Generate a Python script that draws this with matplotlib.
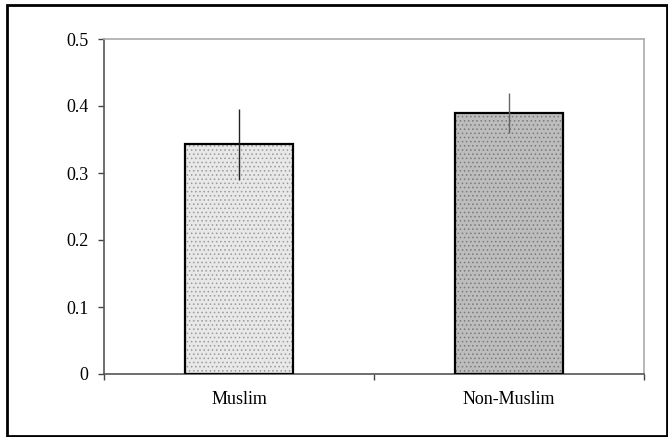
import matplotlib
matplotlib.use("Agg")
import matplotlib.pyplot as plt
from matplotlib.patches import Rectangle

categories = ["Muslim", "Non-Muslim"]
means = [0.343, 0.390]
errors = [0.053, 0.030]
y_ticks = [0, 0.1, 0.2, 0.3, 0.4, 0.5]
y_tick_labels = ["0", "0.1", "0.2", "0.3", "0.4", "0.5"]

plt.rcParams["font.family"] = ["Liberation Serif", "DejaVu Serif"]
plt.rcParams["hatch.linewidth"] = 0.6

W, H = 668, 437
fig = plt.figure(figsize=(W / 100, H / 100), dpi=100)
ax = fig.add_axes([104 / W, 1 - 374 / H, 540 / W, 335 / H])

face_colors = ["#e8e8e8", "#bdbdbd"]
hatch_colors = ["#9a9a9a", "#7a7a7a"]
x = list(range(len(categories)))
for i in x:
    ax.bar(i, means[i], width=0.4, color=face_colors[i], edgecolor=hatch_colors[i],
           hatch="....", linewidth=0, zorder=2)
    ax.bar(i, means[i], width=0.4, fill=False, edgecolor="black", linewidth=1.6, zorder=3)

err_colors = ["#222222", "#666666"]
for i in x:
    ax.errorbar(i, means[i], yerr=errors[i], fmt="none", ecolor=err_colors[i],
                elinewidth=1.0, capsize=0, zorder=4)

ax.set_xlim(-0.5, len(categories) - 0.5)
ax.set_ylim(0, 0.5)
ax.set_yticks(y_ticks)
ax.set_yticklabels(y_tick_labels)
ax.set_xticks([-0.5, 0.5, 1.5])
ax.set_xticklabels([])
ax.set_xticks(x, minor=True)
ax.set_xticklabels(categories, minor=True)
ax.tick_params(axis="x", which="minor", length=0, pad=12, labelsize=13)
ax.tick_params(axis="x", which="major", direction="out", length=4, width=1, color="#444444")
ax.tick_params(axis="y", direction="out", length=4, width=1, color="#444444", pad=7, labelsize=13)

for side in ["left", "bottom"]:
    ax.spines[side].set_color("#555555")
    ax.spines[side].set_linewidth(1.2)
for side in ["top", "right"]:
    ax.spines[side].set_color("#aaaaaa")
    ax.spines[side].set_linewidth(1.2)

fig.patches.append(Rectangle((7 / W, 1 / H), 660 / W, 431 / H, transform=fig.transFigure,
                             fill=False, edgecolor="black", linewidth=2))

fig.savefig("out.png", dpi=100)
